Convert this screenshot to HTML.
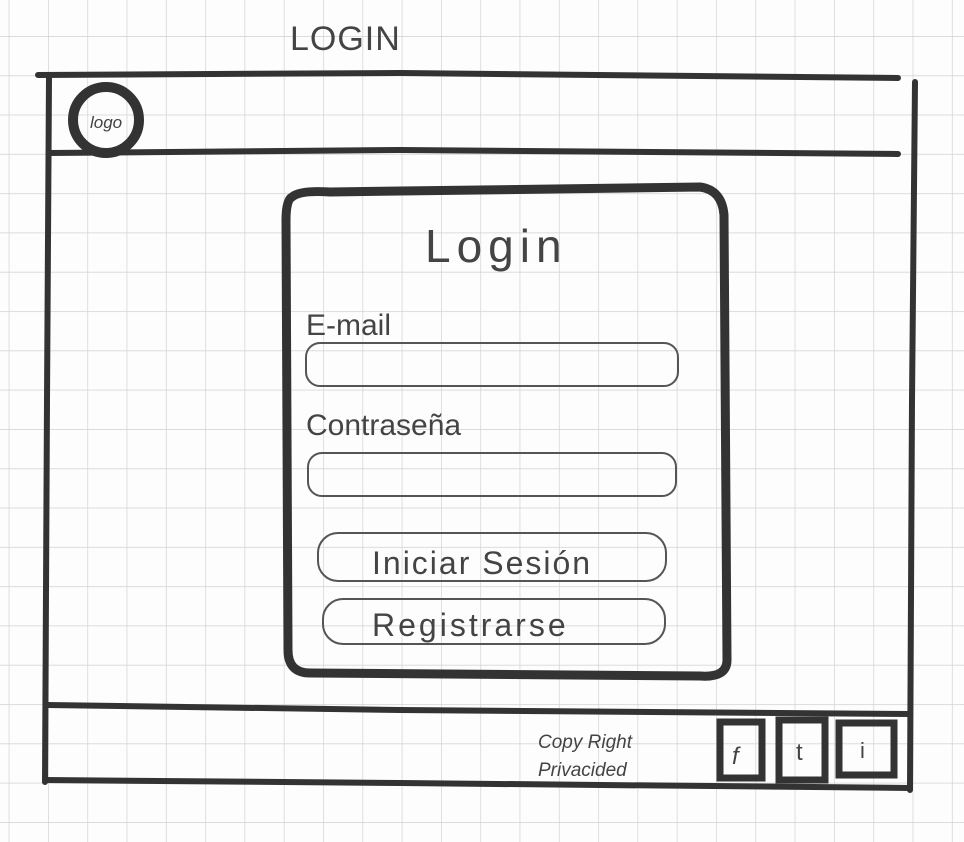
<!DOCTYPE html>
<html><head><meta charset="utf-8"><style>
html,body{margin:0;padding:0;background:#fff}
svg{display:block}
text{font-family:"Liberation Sans",sans-serif;fill:#444}
</style></head><body>
<svg width="964" height="842" viewBox="0 0 964 842" xmlns="http://www.w3.org/2000/svg">
<defs>
<pattern id="g" x="48" y="36" width="39.3" height="39.3" patternUnits="userSpaceOnUse">
<path d="M0 0V39.3M0 0H39.3" stroke="#d2d2d2" stroke-width="1.4" fill="none"/>
</pattern>
</defs>
<rect width="964" height="842" fill="#fdfdfd"/>
<rect width="964" height="842" fill="url(#g)"/>
<text x="290" y="50" font-size="34" fill="#555" letter-spacing="1">LOGIN</text>
<g stroke="#333" stroke-width="6" fill="none" stroke-linecap="round">
<path d="M38 75 L400 73 L898 78"/>
<path d="M915 82 L912 400 L910 790"/>
<path d="M49 78 L47 400 L45 782"/>
<path d="M49 153 L400 150 L898 154"/>
<path d="M47 705 L400 710 L910 714"/>
<path d="M45 780 L400 783 L910 788"/>
<circle cx="106" cy="120" r="33" stroke-width="10"/>
<path d="M292 197 Q300 190 330 192 L700 187 Q722 190 724 215 L727 660 Q727 678 700 676 L310 673 Q288 673 288 650 L286 220 Q286 200 292 197Z" stroke-width="9"/>
<g stroke-width="7">
<rect x="720" y="722" width="42" height="56"/>
<rect x="779" y="720" width="46" height="60"/>
<rect x="839" y="723" width="55" height="52"/>
</g>
</g>
<g stroke="#555" stroke-width="2" fill="none">
<rect x="306" y="343" width="372" height="43" rx="14"/>
<rect x="308" y="453" width="368" height="43" rx="14"/>
<rect x="318" y="533" width="348" height="48" rx="20"/>
<rect x="323" y="599" width="342" height="45" rx="20"/>
</g>
<text x="90" y="128" font-size="17" fill="#333" font-style="italic">logo</text>
<text x="425" y="262" font-size="46" fill="#555" letter-spacing="6">Login</text>
<text x="306" y="335" font-size="30" fill="#555">E-mail</text>
<text x="306" y="435" font-size="30" fill="#555">Contraseña</text>
<text x="372" y="574" font-size="32" fill="#555" letter-spacing="2">Iniciar Sesión</text>
<text x="372" y="636" font-size="32" fill="#555" letter-spacing="3">Registrarse</text>
<text x="538" y="748" font-size="19" fill="#333" font-style="italic">Copy Right</text>
<text x="538" y="776" font-size="19" fill="#333" font-style="italic">Privacided</text>
<text x="732" y="764" font-size="24" fill="#444" font-style="italic">f</text>
<text x="796" y="760" font-size="24" fill="#444">t</text>
<text x="860" y="758" font-size="22" fill="#444">i</text>
</svg>
</body></html>
